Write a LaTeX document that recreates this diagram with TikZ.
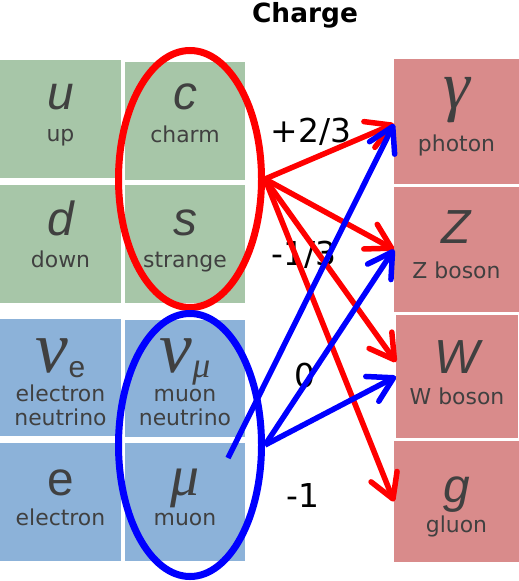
\documentclass[tikz,border=0pt]{standalone}
\usepackage{fontspec}
\setmainfont{DejaVu Sans}
\newfontfamily\symfont{Liberation Sans}
\newfontfamily\greekfont{Liberation Serif}
\usetikzlibrary{shapes.geometric,arrows.meta}

\definecolor{quarkgreen}{RGB}{167,198,168}
\definecolor{leptonblue}{RGB}{140,178,217}
\definecolor{bosonred}{RGB}{217,139,139}
\definecolor{textgray}{RGB}{64,64,64}

% box from its two corners: name, x1, y1, x2, y2, colour
\newcommand{\particlebox}[6]{%
  \node[pbox, fill=#6, minimum width={(#4-#2)*1bp}, minimum height={(#5-#3)*1bp}]
    (#1) at ({(#2+#4)/2},{(#3+#5)/2}) {};}
\newcommand{\subtext}[1]{\raisebox{-5bp}{\fontsize{30}{30}\selectfont #1}}

\begin{document}
\begin{tikzpicture}[x=1bp,y=-1bp,
  pbox/.style={rectangle,inner sep=0,outer sep=0},
  sym/.style={anchor=base,text=textgray,inner sep=0,font=\symfont\itshape\fontsize{48}{48}\selectfont},
  grk/.style={anchor=base,text=textgray,inner sep=0,font=\greekfont\itshape\fontsize{68}{68}\selectfont},
  pname/.style={anchor=base,text=textgray,inner sep=0,font=\fontsize{22}{22}\selectfont},
  charge/.style={anchor=base,inner sep=0,font=\fontsize{33}{33}\selectfont},
  gen/.style={ellipse,draw,line width=7bp,inner sep=0,minimum width=143bp},
  link/.style={line width=5.5bp,-{Straight Barb[length=24bp,width=28bp,round]}}]

\useasboundingbox (0,0) rectangle (519,581);

%%%%%%%%%%%%%%%%%%%%%%%%%%%% quarks %%%%%%%%%%%%%%%%%%%%
\particlebox{up}{0}{60}{121}{178}{quarkgreen}
\particlebox{charm}{125}{62}{245}{180}{quarkgreen}
\particlebox{down}{0}{185}{121}{303}{quarkgreen}
\particlebox{strange}{125}{185}{245}{303}{quarkgreen}

\node[sym] (up-s) at (60.5,110) {u};      \node[pname] (up-n) at (60.5,142) {up};
\node[sym] (charm-s) at (185,110) {c};    \node[pname] (charm-n) at (185,143) {charm};
\node[sym] (down-s) at (60.5,235) {d};    \node[pname] (down-n) at (60.5,267) {down};
\node[sym] (strange-s) at (185,235) {s};  \node[pname] (strange-n) at (185,267) {strange};

%%%%%%%%%%%%%%%%%%%%%%%%%%%% leptons %%%%%%%%%%%%%%%%%%%%
\particlebox{nue}{0}{319}{121}{436}{leptonblue}
\particlebox{numu}{125}{320}{245}{437}{leptonblue}
\particlebox{electron}{0}{443}{121}{561}{leptonblue}
\particlebox{muon}{125}{443}{245}{561}{leptonblue}

\node[grk, font=\greekfont\itshape\fontsize{74}{74}\selectfont] (nue-s) at (60.5,372)
  {ν\subtext{\symfont\upshape e}};
\node[pname] (nue-n1) at (60.5,401) {electron};  \node[pname] (nue-n2) at (60.5,425) {neutrino};
\node[grk, font=\greekfont\itshape\fontsize{74}{74}\selectfont] (numu-s) at (185,372)
  {ν\subtext{\fontsize{36}{36}\selectfont μ}};
\node[pname] (numu-n1) at (185,401) {muon};      \node[pname] (numu-n2) at (185,425) {neutrino};
\node[sym] (electron-s) at (60.5,495) {\upshape e};  \node[pname] (electron-n) at (60.5,525) {electron};
\node[grk, font=\greekfont\itshape\fontsize{58}{58}\selectfont] (muon-s) at (185,495) {μ};
\node[pname] (muon-n) at (185,525) {muon};

%%%%%%%%%%%%%%%%%%%%%%%%%%%% bosons %%%%%%%%%%%%%%%%%%%%
\particlebox{photon}{394}{59}{519}{184}{bosonred}
\particlebox{zboson}{394}{187}{519}{312}{bosonred}
\particlebox{wboson}{396}{315}{518}{438}{bosonred}
\particlebox{gluon}{394}{441}{519}{562}{bosonred}

\node[grk] (photon-s) at (456.5,109) {γ};  \node[pname] (photon-n) at (456.5,152) {photon};
\node[sym] (zboson-s) at (456.5,243) {Z};  \node[pname] (zboson-n) at (456.5,278) {Z boson};
\node[sym] (wboson-s) at (457,373) {W};    \node[pname] (wboson-n) at (457,404) {W boson};
\node[sym] (gluon-s) at (456.5,502) {g};   \node[pname] (gluon-n) at (456.5,532) {gluon};

%%%%%%%%%%%%%%%%%%%%%%%%%%%% charges %%%%%%%%%%%%%%%%%%%%
\node[anchor=base,inner sep=0,font=\bfseries\fontsize{26.5}{26.5}\selectfont] (title) at (305,23) {Charge};
\node[charge] (plustwothirds) at (311,143) {+2/3};
\node[charge] (minusonethird) at (304,265) {-1/3};
\node[charge] (zero) at (305,387) {0};
\node[charge] (minusone) at (303,507) {-1};

%%%%%%%%%%%%%%%%%%%%%%%%%%%% generation rings and links %%%%%%%%%%%%%%%%%%%%
\node[gen, draw=red, minimum height=257bp] (quarks) at (190,179) {};
\node[gen, draw=blue, minimum height=263bp] (leptons) at (190,445) {};

\draw[link, red] (quarks.east) -- ([yshift=-2.5bp]photon.west);
\draw[link, red] (quarks.east) -- (zboson.west);
\draw[link, red] (quarks.east) -- ([yshift=14.5bp]wboson.west);
\draw[link, red] (quarks.east) -- (gluon.west);

\coordinate (muon-tail) at (228,458);
\draw[link, blue] (muon-tail) -- ([yshift=-2.5bp]photon.west);
\draw[link, blue] (leptons.east) -- (zboson.west);
\draw[link, blue] (leptons.east) -- (wboson.west);

\end{tikzpicture}
\end{document}
